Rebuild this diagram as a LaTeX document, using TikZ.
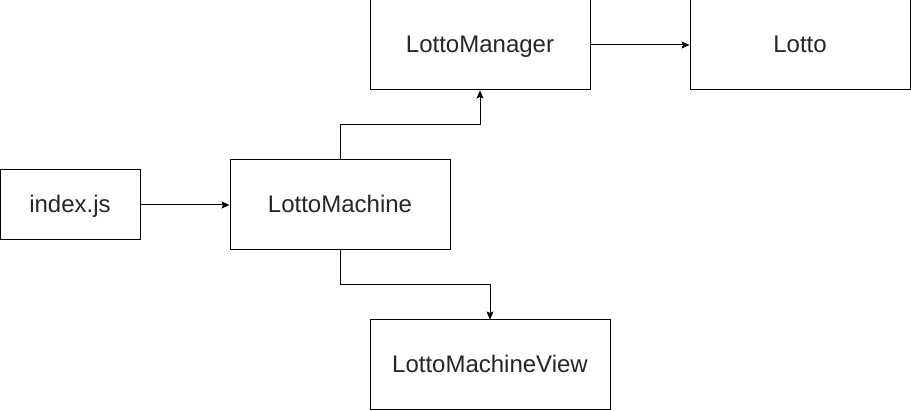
\documentclass[tikz,border=0pt]{standalone}
\usepackage{fontspec}
\setmainfont{Liberation Sans}
\usetikzlibrary{arrows.meta}
\begin{document}
\begin{tikzpicture}[x=1pt,y=-1pt,
  box/.style={draw=black,line width=1pt,fill=white,inner sep=0pt,text height=20pt,text depth=4pt,font=\fontsize{24}{28}\selectfont,text=black!85},
  conn/.style={draw=black,line width=1pt,-{Stealth[length=8pt,width=7pt,inset=1.5pt]}}]
\useasboundingbox (0,0) rectangle (911,411);
\node[box,minimum width=140pt,minimum height=70pt] (idx) at (70,205) {index.js};
\node[box,minimum width=220pt,minimum height=90pt] (lm) at (340,205) {LottoMachine};
\node[box,minimum width=220pt,minimum height=90pt] (mgr) at (480,45) {LottoManager};
\node[box,minimum width=220pt,minimum height=90pt] (lotto) at (800,45) {Lotto};
\node[box,minimum width=240pt,minimum height=90pt] (view) at (490,365) {LottoMachineView};
\coordinate (c1) at (340,125);
\coordinate (c2) at (480,125);
\coordinate (c3) at (340,285);
\coordinate (c4) at (490,285);
\draw[conn] (idx.east) -- (lm.west);
\draw[conn] (lm.north) -- (c1) -- (c2) -- (mgr.south);
\draw[conn] (lm.south) -- (c3) -- (c4) -- (view.north);
\draw[conn] (mgr.east) -- (lotto.west);
\end{tikzpicture}
\end{document}
